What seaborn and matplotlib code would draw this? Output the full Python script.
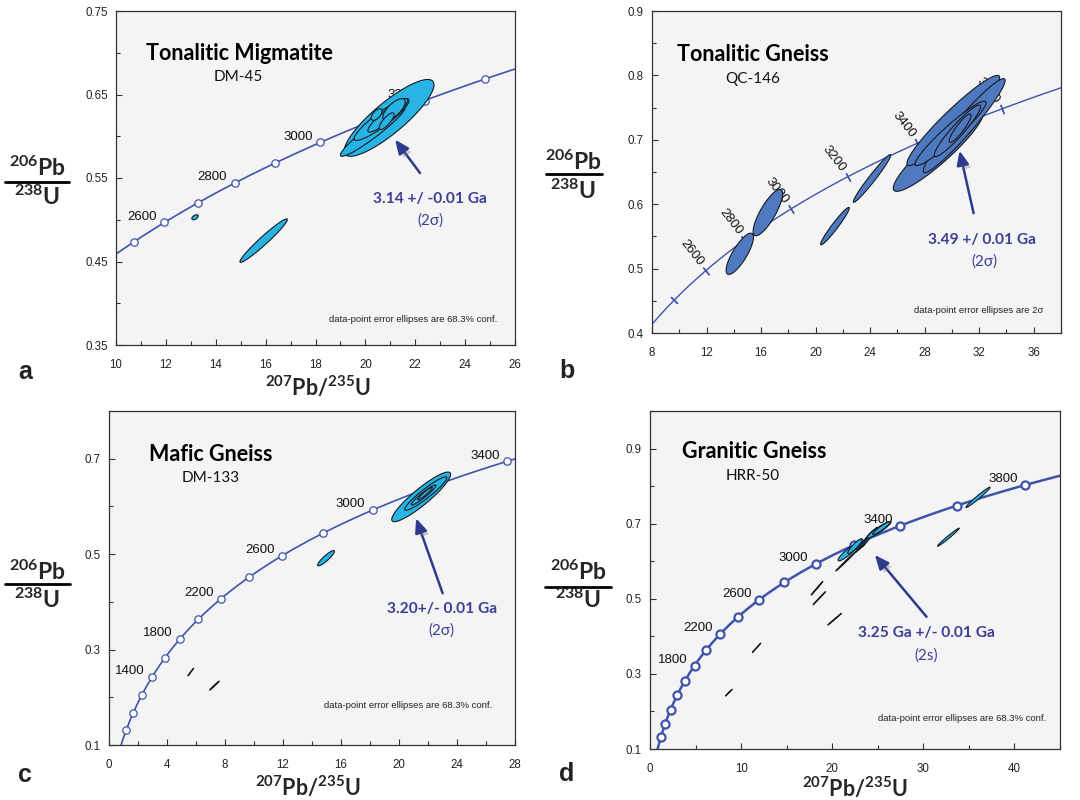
import numpy as np
import pandas as pd
import matplotlib
matplotlib.use("Agg")
import matplotlib.pyplot as plt
import matplotlib.patheffects as pe
from matplotlib.lines import Line2D
from matplotlib.ticker import MultipleLocator
import seaborn as sns

# ---------------------------------------------------------------- data
# U decay constants (1/yr) used for the concordia curve
LAMBDA_238 = 1.55125e-10
LAMBDA_235 = 9.8485e-10

# concordia age marks (Ma)
A_MARK_AGES = [2500, 2600, 2700, 2800, 2900, 3000, 3100, 3200, 3300]
A_LABEL_AGES = [2600, 2800, 3000, 3200]
B_TICK_AGES = [2400, 2600, 2800, 3000, 3200, 3400, 3600]
B_LABEL_AGES = [2600, 2800, 3000, 3200, 3400, 3600]
C_MARK_AGES = [800, 1000, 1200, 1400, 1600, 1800, 2000, 2200, 2400, 2600,
               2800, 3000, 3200, 3400]
C_LABEL_AGES = [1400, 1800, 2200, 2600, 3000, 3400]
D_MARK_AGES = [800, 1000, 1200, 1400, 1600, 1800, 2000, 2200, 2400, 2600,
               2800, 3000, 3200, 3400, 3600, 3800]
D_LABEL_AGES = [1800, 2200, 2600, 3000, 3400, 3800]

# analyses: 207Pb/235U, 206Pb/238U, half-range 207/235, half-range 206/238, rho, fill
A_SPOTS = [
    (20.95, 0.622, 1.80, 0.046, 0.86, "cyan"),
    (20.30, 0.606, 1.30, 0.030, 0.95, "cyan"),
    (20.65, 0.620, 1.10, 0.025, 0.91, "cyan"),
    (20.90, 0.625, 0.80, 0.020, 0.91, "cyan"),
    (21.15, 0.632, 0.45, 0.013, 0.70, "cyan"),
    (20.85, 0.618, 0.30, 0.010, 0.80, "cyan"),
    (20.45, 0.626, 0.22, 0.007, 0.60, "cyan"),
    (13.17, 0.503, 0.13, 0.003, 0.50, "cyan"),
    (15.92, 0.475, 0.95, 0.026, 0.969, "cyan"),
]
B_SPOTS = [
    (14.44, 0.523, 1.00, 0.032, 0.80, "steel"),
    (16.50, 0.587, 1.08, 0.036, 0.81, "steel"),
    (21.42, 0.566, 1.05, 0.029, 0.964, "steel"),
    (24.14, 0.640, 1.37, 0.037, 0.975, "steel"),
    (29.00, 0.683, 3.30, 0.063, 0.92, "steel"),
    (30.10, 0.730, 3.40, 0.070, 0.95, "steel"),
    (30.90, 0.722, 3.00, 0.073, 0.96, "steel"),
    (29.90, 0.710, 2.60, 0.050, 0.95, "steel"),
    (30.40, 0.714, 1.70, 0.040, 0.94, "steel"),
    (30.60, 0.718, 0.80, 0.022, 0.90, "steel"),
]
C_SPOTS = [
    (21.53, 0.620, 2.03, 0.052, 0.91, "cyan"),
    (21.85, 0.627, 1.45, 0.035, 0.94, "cyan"),
    (21.70, 0.624, 0.85, 0.021, 0.95, "cyan"),
    (21.80, 0.627, 0.50, 0.013, 0.95, "cyan"),
    (14.97, 0.4915, 0.58, 0.016, 0.90, "cyan"),
    (5.64, 0.253, 0.20, 0.008, 0.995, "black"),
    (7.27, 0.2245, 0.33, 0.0095, 0.99, "teal"),
]
D_SPOTS = [
    (36.00, 0.770, 1.32, 0.027, 0.98, "cyan"),
    (32.75, 0.664, 1.19, 0.024, 0.985, "cyan"),
    (18.33, 0.528, 0.64, 0.018, 0.997, "black"),
    (18.58, 0.5015, 0.68, 0.0175, 0.997, "black"),
    (20.26, 0.4455, 0.75, 0.0155, 0.997, "darkteal"),
    (11.70, 0.3695, 0.46, 0.0125, 0.997, "black"),
    (8.65, 0.250, 0.37, 0.009, 0.99, "teal"),
    (21.50, 0.600, 1.10, 0.026, 0.997, "black"),
    (21.70, 0.623, 1.06, 0.022, 0.90, "cyan"),
    (22.50, 0.640, 0.80, 0.020, 0.90, "cyan"),
    (23.50, 0.652, 0.90, 0.028, 0.99, "cyan"),
    (23.80, 0.658, 0.85, 0.027, 0.99, "cyan"),
    (24.10, 0.664, 0.80, 0.026, 0.99, "cyan"),
    (25.15, 0.684, 1.30, 0.022, 0.93, "cyan"),
    (25.40, 0.688, 0.95, 0.017, 0.93, "cyan"),
]

FILLS = {"cyan": "#27b4e4", "steel": "#4f79bf", "black": "#202020",
         "teal": "#2b8c9e", "darkteal": "#1f5f6a"}
CURVE = "#3f54aa"
TXT_BLUE = "#3b3f95"
ARROW = "#2e3a8c"

# ---------------------------------------------------------------- style
sns.set_theme(style="ticks")
plt.rcParams.update({
    "font.family": ["Liberation Sans", "DejaVu Sans"],
    "mathtext.fontset": "custom",
    "mathtext.rm": "Lato:bold",
    "mathtext.it": "Lato:bold",
    "mathtext.bf": "Lato:bold",
    "axes.edgecolor": "#333333",
    "axes.linewidth": 0.9,
    "xtick.color": "#333333",
    "ytick.color": "#333333",
    "xtick.labelcolor": "#222222",
    "ytick.labelcolor": "#222222",
})
HEAD = ["Lato", "DejaVu Sans"]

W, H = 1080, 800
fig = plt.figure(figsize=(W / 100, H / 100), dpi=100)
fig.patch.set_facecolor("white")


def make_axes(left, top, right, bottom):
    ax = fig.add_axes([left / W, 1 - bottom / H, (right - left) / W, (bottom - top) / H])
    ax.set_facecolor("#f4f4f4")
    return ax


def concordia(ages):
    t = np.asarray(ages, float) * 1e6
    return np.exp(LAMBDA_235 * t) - 1.0, np.exp(LAMBDA_238 * t) - 1.0


def draw_curve(ax, lw):
    x, y = concordia(np.linspace(1, 4400, 600))
    sns.lineplot(x=x, y=y, sort=False, estimator=None, color=CURVE, lw=lw,
                 ax=ax, zorder=2)


def draw_marks(ax, ages, size, mew):
    x, y = concordia(ages)
    df = pd.DataFrame({"x": x, "y": y})
    sns.scatterplot(data=df, x="x", y="y", ax=ax, s=size, marker="o",
                    facecolor="white", edgecolor=CURVE, linewidth=mew,
                    zorder=3, legend=False)


def draw_labels(ax, ages, dx=-16, dy=4, rot=0, size=9.5):
    x, y = concordia(ages)
    for a, xi, yi in zip(ages, x, y):
        ax.annotate(str(a), (xi, yi), xytext=(dx, dy), textcoords="offset points",
                    ha="center", va="center", fontsize=size, rotation=rot,
                    color="#111111", zorder=3)


def draw_spots(ax, spots):
    t = np.linspace(0, 2 * np.pi, 240)
    for cx, cy, ex, ey, rho, fill in spots:
        x = cx + ex * np.cos(t)
        y = cy + ey * (rho * np.cos(t) + np.sqrt(1 - rho ** 2) * np.sin(t))
        ax.fill(x, y, facecolor=FILLS[fill], edgecolor="#151a22", lw=0.8, zorder=4)


def set_ticks(ax, xlim, ylim, xmaj, xmin, ymaj, ymin):
    ax.set_xlim(*xlim)
    ax.set_ylim(*ylim)
    ax.set_xticks(xmaj)
    ax.set_yticks(ymaj)
    ax.xaxis.set_minor_locator(MultipleLocator(xmin))
    ax.yaxis.set_minor_locator(MultipleLocator(ymin))
    ax.tick_params(which="both", direction="in", top=False, right=False,
                   labelsize=8.3, width=0.8)
    ax.tick_params(which="major", length=4)
    ax.tick_params(which="minor", length=3)
    ax.tick_params(axis="x", pad=10)
    ax.tick_params(axis="y", pad=6)
    ax.set_xlabel("")
    ax.set_ylabel("")
    for s in ax.spines.values():
        s.set_visible(True)


def headings(ax, title, sample, tpos, spos):
    ax.text(*tpos, title, ha="center", va="center", fontsize=15.5,
            fontweight="bold", family=HEAD, color="black", zorder=6)
    ax.text(*spos, sample, ha="center", va="center", fontsize=11,
            family=HEAD, color="#111111", zorder=6)


def age_call(ax, text, sub, tpos, spos, tail, head):
    ax.text(*tpos, text, ha="center", va="center", fontsize=11.2,
            fontweight="bold", family=HEAD, color=TXT_BLUE, zorder=6)
    ax.text(*spos, sub, ha="center", va="center", fontsize=11,
            family=HEAD + ["DejaVu Serif"], color=TXT_BLUE, zorder=6)
    an = ax.annotate("", xy=head, xytext=tail, zorder=7,
                     arrowprops=dict(arrowstyle="-|>,head_length=0.7,head_width=0.3",
                                     color=ARROW, lw=1.8, shrinkA=0, shrinkB=0))
    an.arrow_patch.set_path_effects([
        pe.SimplePatchShadow(offset=(2.5, -2.5), shadow_rgbFace="#777777", alpha=0.35),
        pe.Normal()])


def note(ax, text, x, y):
    ax.text(x, y, text, ha="right", va="center", fontsize=6.8, color="#222222",
            zorder=6)


def frac_label(xc, ynum, yline, x0, x1, yden):
    fig.text(xc / W, 1 - ynum / H, r"$^{206}$Pb", ha="center", va="center",
             fontsize=16.5, fontweight="bold", family=HEAD)
    fig.add_artist(Line2D([x0 / W, x1 / W], [1 - yline / H] * 2, color="black",
                          lw=2.0, transform=fig.transFigure))
    fig.text(xc / W, 1 - yden / H, r"$^{238}$U", ha="center", va="center",
             fontsize=16.5, fontweight="bold", family=HEAD)


def xlabel(xc, yc):
    fig.text(xc / W, 1 - yc / H, r"$^{207}$Pb/$^{235}$U", ha="center", va="center",
             fontsize=15.5, fontweight="bold", family=HEAD)


def letter(x, y, s):
    fig.text(x / W, 1 - y / H, s, ha="center", va="center", fontsize=18,
             fontweight="bold", color="#222222")


# ---------------------------------------------------------------- panel a
ax = make_axes(116, 11, 515, 345)
draw_curve(ax, 1.2)
draw_marks(ax, A_MARK_AGES, 28, 0.9)
draw_labels(ax, A_LABEL_AGES)
draw_spots(ax, A_SPOTS)
set_ticks(ax, (10, 26), (0.35, 0.75), np.arange(10, 27, 2), 1,
          [0.35, 0.45, 0.55, 0.65, 0.75], 0.05)
ax.set_yticklabels(["0.35", "0.45", "0.55", "0.65", "0.75"])
headings(ax, "Tonalitic Migmatite", "DM-45", (14.95, 0.699), (14.9, 0.671))
age_call(ax, "3.14 +/ -0.01 Ga", "(2σ)", (22.6, 0.525), (22.6, 0.499),
         (22.19, 0.556), (21.19, 0.596))
note(ax, "data-point error ellipses are 68.3% conf.", 25.27, 0.381)

# ---------------------------------------------------------------- panel b
ax = make_axes(652, 11, 1061, 333)
set_ticks(ax, (8, 38), (0.4, 0.9), np.arange(8, 37, 4), 2,
          [0.4, 0.5, 0.6, 0.7, 0.8, 0.9], 0.05)
ax.set_yticklabels(["0.4", "0.5", "0.6", "0.7", "0.8", "0.9"])
draw_curve(ax, 1.0)
bx, by = concordia(B_TICK_AGES)
bx2, by2 = concordia(np.array(B_TICK_AGES) + 1.0)
for x0, y0, x1, y1 in zip(bx, by, bx2, by2):
    p0 = ax.transData.transform((x0, y0))
    p1 = ax.transData.transform((x1, y1))
    ang = np.degrees(np.arctan2(p1[1] - p0[1], p1[0] - p0[0]))
    ax.plot([x0], [y0], marker=(2, 2, ang), ms=7, mew=0.9, color=CURVE,
            ls="none", zorder=3)
draw_labels(ax, B_LABEL_AGES, dx=-10, dy=13, rot=-52, size=9.5)
draw_spots(ax, B_SPOTS)
headings(ax, "Tonalitic Gneiss", "QC-146", (15.42, 0.832), (15.42, 0.795))
age_call(ax, "3.49 +/ 0.01 Ga", "(2σ)", (32.2, 0.545), (32.4, 0.511),
         (31.59, 0.586), (30.56, 0.683))
note(ax, "data-point error ellipses are 2σ", 36.7, 0.435)

# ---------------------------------------------------------------- panel c
ax = make_axes(109, 411, 515, 745)
draw_curve(ax, 1.2)
draw_marks(ax, C_MARK_AGES, 28, 0.9)
draw_labels(ax, C_LABEL_AGES)
draw_spots(ax, C_SPOTS)
set_ticks(ax, (0, 28), (0.1, 0.8), np.arange(0, 29, 4), 2,
          [0.1, 0.3, 0.5, 0.7], 0.1)
ax.set_yticklabels(["0.1", "0.3", "0.5", "0.7"])
headings(ax, "Mafic Gneiss", "DM-133", (7.03, 0.709), (6.98, 0.66))
age_call(ax, "3.20+/- 0.01 Ga", "(2σ)", (22.94, 0.384), (22.94, 0.339),
         (23.01, 0.418), (21.18, 0.575))
note(ax, "data-point error ellipses are 68.3% conf.", 26.46, 0.182)

# ---------------------------------------------------------------- panel d
ax = make_axes(650, 411, 1060, 749)
draw_curve(ax, 1.8)
draw_marks(ax, D_MARK_AGES, 34, 1.6)
draw_labels(ax, D_LABEL_AGES)
draw_spots(ax, D_SPOTS)
set_ticks(ax, (0, 45), (0.1, 1.0), np.arange(0, 41, 10), 5,
          [0.1, 0.3, 0.5, 0.7, 0.9], 0.1)
ax.set_yticklabels(["0.1", "0.3", "0.5", "0.7", "0.9"])
headings(ax, "Granitic Gneiss", "HRR-50", (11.39, 0.892), (11.31, 0.827))
age_call(ax, "3.25 Ga +/- 0.01 Ga", "(2s)", (30.35, 0.41), (30.35, 0.35),
         (30.35, 0.452), (24.68, 0.6166))
note(ax, "data-point error ellipses are 68.3% conf.", 43.5, 0.182)

# ---------------------------------------------------------------- shared text
frac_label(37, 168, 182, 5, 69, 197)
frac_label(573, 162, 174, 546, 602, 191)
frac_label(37, 572, 584, 5, 70, 600)
frac_label(578, 572, 587, 545, 611, 600)
xlabel(318, 387)
xlabel(308, 787)
xlabel(855, 788)
letter(25, 372, "a")
letter(567, 371, "b")
letter(25, 775, "c")
letter(567, 774, "d")

fig.savefig("out.png", dpi=100, facecolor="white")
